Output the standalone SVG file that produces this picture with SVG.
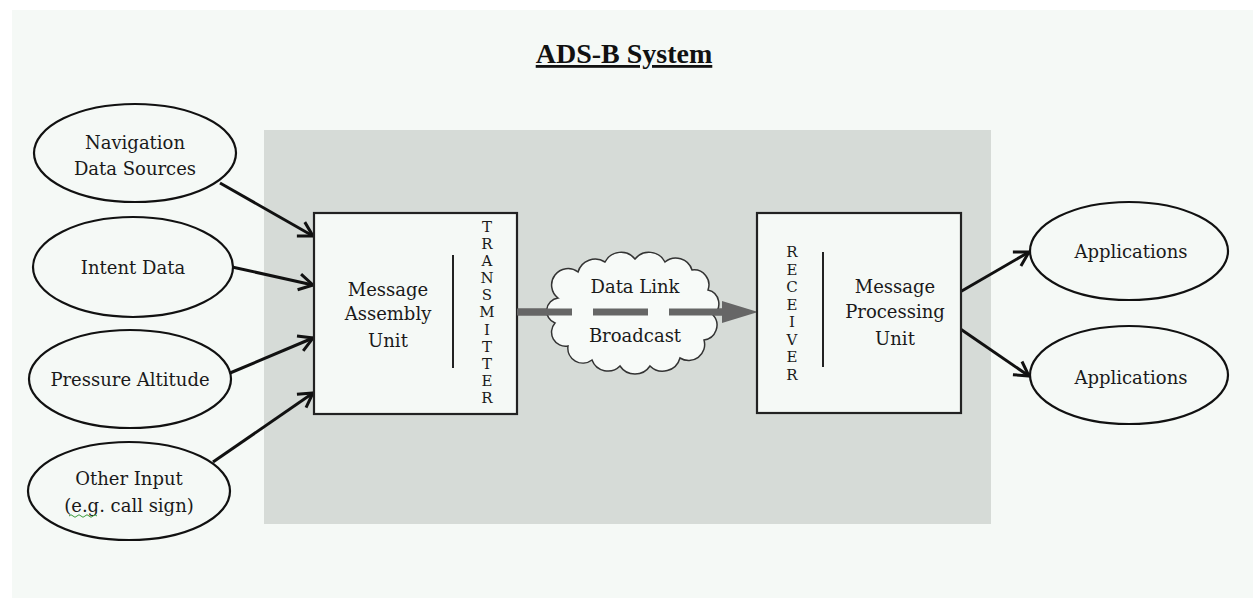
<svg xmlns="http://www.w3.org/2000/svg" width="1253" height="598" viewBox="0 0 1253 598">
<defs>
<style>
.lbl{font-family:"DejaVu Serif","Liberation Serif",serif;font-size:18px;fill:#1a1a1a;text-anchor:middle}
.vert{font-family:"DejaVu Serif","Liberation Serif",serif;font-size:15px;fill:#1a1a1a;text-anchor:middle}
.ell{fill:#f5f9f6;stroke:#111;stroke-width:2.2}
.box{fill:#f5f9f6;stroke:#222;stroke-width:2.2}
.sep{stroke:#222;stroke-width:2}
.arr{stroke:#111;stroke-width:3;fill:none;marker-end:url(#vhead)}
</style>
<marker id="vhead" markerUnits="userSpaceOnUse" viewBox="0 0 20 20" markerWidth="20" markerHeight="20" refX="17" refY="10" orient="auto">
<path d="M3,2 L17,10 L3,18" fill="none" stroke="#111" stroke-width="3" stroke-linejoin="miter"/>
</marker>
</defs>
<rect x="0" y="0" width="1253" height="598" fill="#ffffff"/>
<rect x="12" y="10" width="1241" height="588" fill="#f5f9f6"/>
<rect id="system-area" x="264" y="130" width="727" height="394" fill="#d6dbd7"/>
<text id="title" x="624" y="63" font-family="Liberation Serif, serif" font-weight="bold" font-size="28" text-anchor="middle" fill="#111" text-decoration="underline">ADS-B System</text>

<g id="connectors">
<line class="arr" x1="220" y1="183" x2="313" y2="236"/>
<line class="arr" x1="232" y1="267" x2="313" y2="285"/>
<line class="arr" x1="230" y1="373" x2="313" y2="338"/>
<line class="arr" x1="213" y1="462" x2="313" y2="393"/>
<line class="arr" x1="960" y1="292" x2="1029" y2="252"/>
<line class="arr" x1="959" y1="328" x2="1029" y2="376"/>
<line x1="517" y1="312" x2="724" y2="312" stroke="#666" stroke-width="7" stroke-dasharray="55 21"/>
<polygon points="722,301 758,312 722,323" fill="#666"/>
</g>

<g id="nav-sources">
<ellipse class="ell" cx="135" cy="153" rx="101" ry="49"/>
<text class="lbl" x="135" y="149">Navigation</text>
<text class="lbl" x="135" y="175">Data Sources</text>
</g>
<g id="intent-data">
<ellipse class="ell" cx="133" cy="267" rx="100" ry="50"/>
<text class="lbl" x="133" y="274">Intent Data</text>
</g>
<g id="pressure-altitude">
<ellipse class="ell" cx="130" cy="379" rx="101" ry="49"/>
<text class="lbl" x="130" y="386">Pressure Altitude</text>
</g>
<g id="other-input">
<ellipse class="ell" cx="129" cy="491" rx="101" ry="49"/>
<text class="lbl" x="129" y="485">Other Input</text>
<text class="lbl" x="129" y="512">(e.g. call sign)</text>
<path d="M69,516 q2,-2.5 4,0 t4,0 t4,0 t4,0 t4,0 t4,0 t4,0" fill="none" stroke="#3a9a3a" stroke-width="1"/>
</g>

<g id="message-assembly">
<rect class="box" x="314" y="213" width="203" height="201"/>
<line class="sep" x1="453" y1="255" x2="453" y2="368"/>
<text class="lbl" x="388" y="296">Message</text>
<text class="lbl" x="388" y="320">Assembly</text>
<text class="lbl" x="388" y="347">Unit</text>
<g class="vert">
<text x="487" y="232">T</text>
<text x="487" y="249">R</text>
<text x="487" y="266">A</text>
<text x="487" y="283">N</text>
<text x="487" y="300">S</text>
<text x="487" y="317">M</text>
<text x="487" y="335">I</text>
<text x="487" y="352">T</text>
<text x="487" y="369">T</text>
<text x="487" y="386">E</text>
<text x="487" y="403">R</text>
</g>
</g>

<g id="data-link">
<path d="M558,298 A16,16 0 0 1 578,272 A18,18 0 0 1 605,262 A18,18 0 0 1 635,259 A18,18 0 0 1 665,262 A17,17 0 0 1 692,270 A15,15 0 0 1 708,290 A14,14 0 0 1 713,315 A15,15 0 0 1 704,340 A16,16 0 0 1 680,358 A18,18 0 0 1 650,366 A18,18 0 0 1 620,366 A17,17 0 0 1 592,360 A15,15 0 0 1 568,346 A14,14 0 0 1 555,323 A13,13 0 0 1 558,298 Z" fill="#f7faf8" stroke="#333" stroke-width="1.5"/>
<line x1="517" y1="312" x2="724" y2="312" stroke="#666" stroke-width="7" stroke-dasharray="55 21"/>
<text class="lbl" x="635" y="293">Data Link</text>
<text class="lbl" x="635" y="342">Broadcast</text>
</g>

<g id="message-processing">
<rect class="box" x="757" y="213" width="204" height="200"/>
<line class="sep" x1="823" y1="252" x2="823" y2="367"/>
<text class="lbl" x="895" y="293">Message</text>
<text class="lbl" x="895" y="318">Processing</text>
<text class="lbl" x="895" y="345">Unit</text>
<g class="vert">
<text x="792" y="257">R</text>
<text x="792" y="275">E</text>
<text x="792" y="292">C</text>
<text x="792" y="310">E</text>
<text x="792" y="327">I</text>
<text x="792" y="345">V</text>
<text x="792" y="362">E</text>
<text x="792" y="380">R</text>
</g>
</g>

<g id="applications-1">
<ellipse class="ell" cx="1129" cy="251" rx="99" ry="49"/>
<text class="lbl" x="1131" y="258">Applications</text>
</g>
<g id="applications-2">
<ellipse class="ell" cx="1129" cy="375" rx="99" ry="49"/>
<text class="lbl" x="1131" y="384">Applications</text>
</g>
</svg>
